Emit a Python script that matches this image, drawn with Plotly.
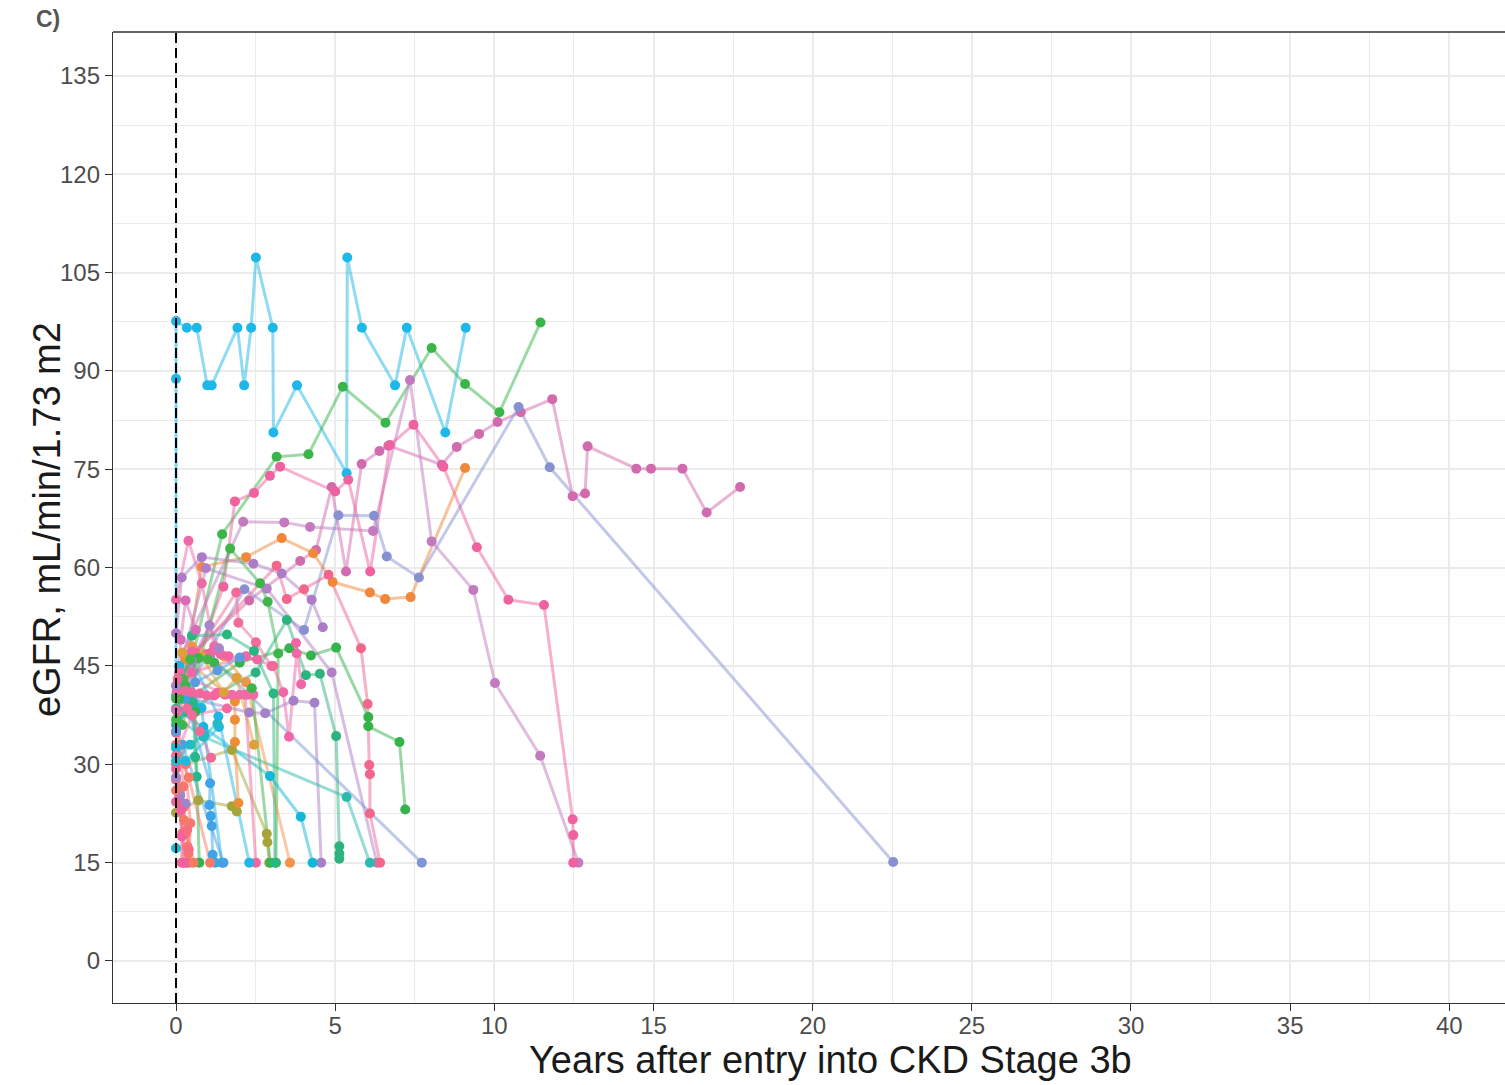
import plotly.graph_objects as go

# ---------------- data: one pair of arrays per patient ----------------
pt01_years = [0.0, 0.0, 0.0, 0.34, 0.65, 0.98, 1.12, 1.93, 2.14, 2.36, 2.51, 3.04, 3.06, 3.80, 5.36, 5.38, 5.84, 6.88, 7.25, 8.46, 9.10]
pt01_egfr = [40.5, 88.8, 97.6, 96.6, 96.6, 87.8, 87.8, 96.6, 87.8, 96.6, 107.3, 96.6, 80.6, 87.8, 74.4, 107.3, 96.6, 87.8, 96.6, 80.6, 96.6]
pt02_years = [0.30, 1.45, 3.16, 4.16, 5.24, 6.58, 8.03, 9.08, 10.16, 11.45]
pt02_egfr = [42.0, 65.1, 76.9, 77.3, 87.6, 82.1, 93.5, 88.0, 83.7, 97.4]
pt03_years = [0.10, 2.30, 3.90, 4.40, 4.89, 5.34, 5.83, 6.39, 6.67, 8.35, 8.82, 9.52, 10.10, 10.83, 11.82, 12.46, 12.85, 12.93, 14.46, 14.92, 15.91, 16.67, 17.72]
pt03_egfr = [45.0, 55.0, 61.0, 62.7, 72.3, 59.4, 75.8, 77.8, 78.6, 75.7, 78.4, 80.4, 82.2, 83.7, 85.7, 70.9, 71.3, 78.5, 75.1, 75.1, 75.1, 68.4, 72.3]
pt04_years = [0.20, 2.11, 3.40, 4.21, 6.19, 7.35, 8.03, 9.34, 10.02, 11.44, 12.64]
pt04_egfr = [47.0, 67.0, 66.9, 66.2, 65.6, 88.6, 64.0, 56.6, 42.4, 31.3, 15.0]
pt05_years = [0.20, 1.49, 1.85, 2.45, 2.95, 3.27, 5.00, 5.41, 6.10, 6.72, 7.46, 8.40, 9.45, 10.44, 11.56, 12.46, 12.48, 12.48]
pt05_egfr = [40.0, 57.1, 70.1, 71.4, 74.0, 75.4, 71.6, 73.4, 59.4, 78.7, 81.8, 75.4, 63.1, 55.1, 54.3, 21.6, 19.2, 15.0]
pt06_years = [0.20, 2.15, 4.02, 5.10, 6.22, 6.62, 7.63, 10.76, 11.74, 22.53]
pt06_egfr = [40.0, 56.7, 50.5, 68.0, 67.9, 61.7, 58.5, 84.5, 75.3, 15.1]
pt07_years = [0.10, 0.81, 2.20, 3.32, 4.31, 4.92, 6.09, 6.57, 7.37, 9.08]
pt07_egfr = [38.0, 60.1, 61.6, 64.5, 62.2, 57.8, 56.2, 55.2, 55.5, 75.2]
pt08_years = [0.00, 0.18, 0.81, 2.43, 3.32, 4.26, 4.61]
pt08_egfr = [50.0, 58.5, 61.6, 60.6, 59.1, 55.1, 50.9]
pt09_years = [0.10, 0.94, 2.85, 4.89, 6.31]
pt09_egfr = [44.0, 59.9, 56.8, 44.0, 15.0]
pt10_years = [0.50, 2.30, 2.80, 3.69, 4.35, 4.56]
pt10_egfr = [40.0, 37.9, 37.8, 39.7, 39.4, 15.0]
pt11_years = [0.60, 3.16, 3.48, 4.02, 4.79, 5.81, 6.02, 6.07, 6.09, 6.09, 6.41]
pt11_egfr = [47.0, 60.3, 55.2, 56.7, 58.9, 47.7, 39.2, 29.9, 28.5, 22.5, 15.0]
pt12_years = [0.40, 2.00, 3.56, 4.24, 5.03, 6.04, 6.04, 7.02, 7.20]
pt12_egfr = [40.0, 45.5, 47.7, 46.6, 47.8, 37.2, 35.8, 33.4, 23.1]
pt13_years = [0.30, 2.50, 3.48, 4.08, 4.52, 5.03, 5.13, 5.13, 5.13]
pt13_egfr = [38.0, 44.0, 52.0, 43.6, 43.8, 34.3, 17.5, 16.4, 15.6]
pt14_years = [0.05, 0.86, 5.36, 6.09]
pt14_egfr = [37.0, 34.2, 25.0, 15.0]
pt15_years = [0.10, 1.07, 7.72]
pt15_egfr = [44.0, 46.4, 15.0]
pt16_years = [0.20, 1.70, 2.64, 2.88, 3.21, 3.14]
pt16_egfr = [36.0, 62.9, 57.6, 54.8, 46.9, 15.0]
pt17_years = [0.30, 1.75, 2.85, 2.87, 2.93]
pt17_egfr = [30.0, 32.2, 19.4, 18.1, 15.0]
pt18_years = [0.00, 0.70, 1.75, 1.91]
pt18_egfr = [22.6, 24.5, 23.6, 22.8]
pt19_years = [0.30, 1.85, 1.85, 1.85, 1.96]
pt19_egfr = [46.0, 39.6, 36.8, 33.4, 24.1]
pt20_years = [0.50, 1.50, 2.20, 3.58]
pt20_egfr = [48.0, 46.5, 42.5, 15.0]
pt21_years = [0.10, 0.86, 2.95, 3.92, 4.29]
pt21_egfr = [38.0, 35.7, 28.2, 22.0, 15.0]
pt22_years = [0.50, 2.20, 3.05, 3.37, 3.55, 3.79, 3.77, 3.93]
pt22_egfr = [44.0, 46.5, 45.0, 41.0, 34.2, 46.9, 48.5, 42.2]
pt23_years = [0.30, 1.20, 2.17, 2.51]
pt23_egfr = [41.0, 40.5, 40.6, 15.0]
pt24_years = [0.50, 1.33, 2.30]
pt24_egfr = [46.0, 37.3, 15.0]
pt25_years = [0.30, 1.07, 1.05, 1.09, 1.12, 1.15, 1.23]
pt25_egfr = [40.0, 27.1, 23.8, 22.1, 20.6, 16.2, 15.0]
pt26_years = [0.10, 0.80, 1.44]
pt26_egfr = [45.0, 38.6, 15.0]
pt27_years = [0.20, 1.49]
pt27_egfr = [33.0, 15.0]
pt28_years = [0.10, 0.60, 0.73]
pt28_egfr = [40.0, 38.0, 15.0]
pt29_years = [0.05, 0.23, 0.25, 0.31, 0.36, 0.39, 0.34]
pt29_egfr = [38.0, 26.6, 23.5, 19.5, 17.4, 16.4, 15.0]
pt30_years = [0.00, 0.20, 0.23]
pt30_egfr = [30.0, 19.5, 15.0]
pt31_years = [0.00, 0.39, 0.81, 1.20]
pt31_egfr = [55.1, 64.1, 57.6, 48.0]
pt32_years = [0.10, 1.89, 1.96, 2.51, 3.00]
pt32_egfr = [43.0, 56.2, 51.6, 48.6, 45.0]
pt33_years = [0.02, 0.28, 0.49, 0.75, 0.96, 1.30]
pt33_egfr = [41.1, 41.2, 41.0, 40.8, 40.5, 40.9]
pt34_years = [0.10, 1.54, 1.75, 2.01, 2.24, 2.43]
pt34_egfr = [44.0, 40.6, 40.6, 40.6, 40.6, 40.6]
pt35_years = [0.00, 0.50, 0.95, 1.10, 1.40, 1.65, 2.55]
pt35_egfr = [34.8, 47.2, 46.8, 47.0, 46.8, 46.5, 46.0]
pt36_years = [0.00, 0.54, 0.60, 0.65]
pt36_egfr = [36.0, 39.3, 31.1, 28.1]
pt37_years = [0.00, 0.40, 1.07]
pt37_egfr = [33.0, 28.0, 15.0]
pt38_years = [0.00, 0.30, 0.45, 0.42]
pt38_egfr = [35.0, 30.0, 21.0, 15.0]
pt39_years = [0.00, 0.10, 0.18, 0.18]
pt39_egfr = [29.3, 25.0, 19.0, 15.0]
pt40_years = [0.00, 0.35, 0.40]
pt40_egfr = [27.6, 20.0, 17.0]
pt41_years = [0.20, 0.80, 1.50, 1.90, 2.45]
pt41_egfr = [47.0, 46.5, 41.0, 43.2, 33.0]
pt42_years = [0.00, 0.70, 1.20, 2.38, 2.96]
pt42_egfr = [40.0, 46.2, 45.5, 41.6, 15.0]
pt43_years = [0.00, 0.50, 1.60, 2.45, 3.06, 3.11]
pt43_egfr = [38.5, 49.6, 49.8, 47.3, 40.8, 15.0]
pt44_years = [0.00, 0.60, 1.30, 2.00]
pt44_egfr = [35.0, 42.5, 44.3, 46.3]
pt45_years = [0.00, 0.30, 1.35]
pt45_egfr = [32.5, 30.5, 35.7]
pt46_years = [0.00, 0.50, 1.05, 1.35]
pt46_egfr = [42.0, 45.8, 51.2, 47.7]
pt47_years = [0.00, 0.50, 1.60]
pt47_egfr = [31.3, 37.5, 38.5]
pt48_years = [0.00, 0.20, 0.45, 1.00]
pt48_egfr = [36.8, 43.0, 46.0, 46.0]
pt49_years = [0.00, 0.13, 0.30]
pt49_egfr = [28.0, 25.3, 24.0]
pt50_years = [0.00, 0.15, 0.30, 0.62]
pt50_egfr = [38.3, 49.0, 55.0, 50.5]
pt51_years = [0.00]
pt51_egfr = [17.2]
pt52_years = [0.00, 0.15, 0.30]
pt52_egfr = [24.3, 23.0, 15.0]
pt53_years = [0.00, 0.45, 0.90, 1.30]
pt53_egfr = [30.5, 33.0, 34.5, 36.2]
pt54_years = [0.05, 0.35, 0.75, 1.10]
pt54_egfr = [43.0, 38.5, 35.0, 31.0]
pt55_years = [0.00, 0.25, 0.55]
pt55_egfr = [26.0, 21.5, 15.0]

x_ticks = [0, 5, 10, 15, 20, 25, 30, 35, 40]
y_ticks = [0, 15, 30, 45, 60, 75, 90, 105, 120, 135]

patients = [
    (pt01_years, pt01_egfr, "#1DB8E8"), (pt02_years, pt02_egfr, "#3AB54A"),
    (pt03_years, pt03_egfr, "#D16BAE"), (pt04_years, pt04_egfr, "#C27BBE"),
    (pt05_years, pt05_egfr, "#F0629F"), (pt06_years, pt06_egfr, "#8791D1"),
    (pt07_years, pt07_egfr, "#F0873A"), (pt08_years, pt08_egfr, "#AE7CC6"),
    (pt09_years, pt09_egfr, "#B27EC8"), (pt10_years, pt10_egfr, "#A67FC9"),
    (pt11_years, pt11_egfr, "#F2668B"), (pt12_years, pt12_egfr, "#34B24C"),
    (pt13_years, pt13_egfr, "#2DB47E"), (pt14_years, pt14_egfr, "#2CBAAE"),
    (pt15_years, pt15_egfr, "#7C95D6"), (pt16_years, pt16_egfr, "#3DB54B"),
    (pt17_years, pt17_egfr, "#A8A33A"), (pt18_years, pt18_egfr, "#A5A53C"),
    (pt19_years, pt19_egfr, "#EB8E35"), (pt20_years, pt20_egfr, "#F39347"),
    (pt21_years, pt21_egfr, "#12B7D9"), (pt22_years, pt22_egfr, "#F066A6"),
    (pt23_years, pt23_egfr, "#F564A0"), (pt24_years, pt24_egfr, "#22B5E5"),
    (pt25_years, pt25_egfr, "#3FA3E8"), (pt26_years, pt26_egfr, "#1CB4E3"),
    (pt27_years, pt27_egfr, "#4A9FE4"), (pt28_years, pt28_egfr, "#2FB34A"),
    (pt29_years, pt29_egfr, "#F8766D"), (pt30_years, pt30_egfr, "#F7736F"),
    (pt31_years, pt31_egfr, "#EE69A8"), (pt32_years, pt32_egfr, "#F26A9B"),
    (pt33_years, pt33_egfr, "#F2679E"), (pt34_years, pt34_egfr, "#F06BA5"),
    (pt35_years, pt35_egfr, "#F165A2"), (pt36_years, pt36_egfr, "#27B58C"),
    (pt37_years, pt37_egfr, "#F57B68"), (pt38_years, pt38_egfr, "#F8766D"),
    (pt39_years, pt39_egfr, "#F5619E"), (pt40_years, pt40_egfr, "#F76F7E"),
    (pt41_years, pt41_egfr, "#E0A038"), (pt42_years, pt42_egfr, "#3BB44A"),
    (pt43_years, pt43_egfr, "#2AB680"), (pt44_years, pt44_egfr, "#5C9BE0"),
    (pt45_years, pt45_egfr, "#1FB9E0"), (pt46_years, pt46_egfr, "#A884CB"),
    (pt47_years, pt47_egfr, "#F26CA0"), (pt48_years, pt48_egfr, "#43B649"),
    (pt49_years, pt49_egfr, "#9F86CC"), (pt50_years, pt50_egfr, "#D96CB6"),
    (pt51_years, pt51_egfr, "#14BCD6"), (pt52_years, pt52_egfr, "#F0609E"),
    (pt53_years, pt53_egfr, "#24BBC9"), (pt54_years, pt54_egfr, "#F06A9A"),
    (pt55_years, pt55_egfr, "#F47A66"),
]


def rgba(hex_color, a):
    h = hex_color.lstrip("#")
    r, g, b = int(h[0:2], 16), int(h[2:4], 16), int(h[4:6], 16)
    return f"rgba({r},{g},{b},{a})"


fig = go.Figure()
# lines first (under all points), like geom_line + geom_point
for yrs, eg, col in patients:
    fig.add_trace(go.Scatter(x=yrs, y=eg, mode="lines",
                             line=dict(color=rgba(col, 0.5), width=3),
                             hoverinfo="skip", showlegend=False))
for yrs, eg, col in patients:
    fig.add_trace(go.Scatter(x=yrs, y=eg, mode="markers",
                             marker=dict(color=col, size=10, line=dict(width=0)),
                             showlegend=False))

FONT = "Liberation Sans, Arial, Helvetica, sans-serif"
grid = "#EBEBEB"

fig.update_layout(
    width=1505, height=1085,
    margin=dict(l=113, r=0, t=32, b=82),
    paper_bgcolor="white", plot_bgcolor="white",
    font=dict(family=FONT),
    xaxis=dict(range=[-1.98, 41.75], tickvals=x_ticks, ticktext=[str(v) for v in x_ticks],
               showgrid=True, gridcolor=grid, gridwidth=1.6, zeroline=False,
               minor=dict(dtick=2.5, tick0=0, showgrid=True, gridcolor=grid, gridwidth=1.1, ticks=""),
               showline=True, linecolor="#333333", linewidth=1.3,
               ticks="outside", ticklen=7, tickwidth=1.3, tickcolor="#333333",
               ticklabelstandoff=-6,
               tickfont=dict(size=24, color="#4D4D4D", family=FONT)),
    yaxis=dict(range=[-6.41, 141.7], tickvals=y_ticks, ticktext=[str(v) for v in y_ticks],
               showgrid=True, gridcolor=grid, gridwidth=1.6, zeroline=False,
               minor=dict(dtick=7.5, tick0=0, showgrid=True, gridcolor=grid, gridwidth=1.1, ticks=""),
               showline=True, linecolor="#333333", linewidth=1.3,
               ticks="outside", ticklen=7, tickwidth=1.3, tickcolor="#333333",
               tickfont=dict(size=24, color="#4D4D4D", family=FONT)),
    shapes=[
        dict(type="line", xref="x", yref="paper", x0=0, x1=0, y0=0, y1=1,
             line=dict(color="black", width=2, dash="10px,5px"), layer="above"),
        dict(type="line", xref="paper", yref="paper", x0=0, x1=1, y0=1, y1=1,
             line=dict(color="#333333", width=1.3), layer="above"),
    ],
    annotations=[
        dict(text="Years after entry into CKD Stage 3b", xref="paper", yref="paper",
             x=0.5151, y=-0.0587, xanchor="center", yanchor="middle", showarrow=False,
             font=dict(size=38, color="#1A1A1A", family=FONT)),
        dict(text="eGFR, mL/min/1.73 m2", xref="paper", yref="paper",
             x=-0.0474, y=0.4974, xanchor="center", yanchor="middle", showarrow=False,
             textangle=-90, font=dict(size=38, color="#1A1A1A", family=FONT)),
        dict(text="<b>C)</b>", xref="paper", yref="paper",
             x=-0.0467, y=1.0135, xanchor="center", yanchor="middle", showarrow=False,
             font=dict(size=23, color="#555555", family=FONT)),
    ],
)

# remove the browser's default 8px body margin so the figure fills the window exactly
fig.write_html("out.html",
               config={"displayModeBar": False},
               post_script="document.body.style.margin='0px';document.body.style.overflow='hidden';")
